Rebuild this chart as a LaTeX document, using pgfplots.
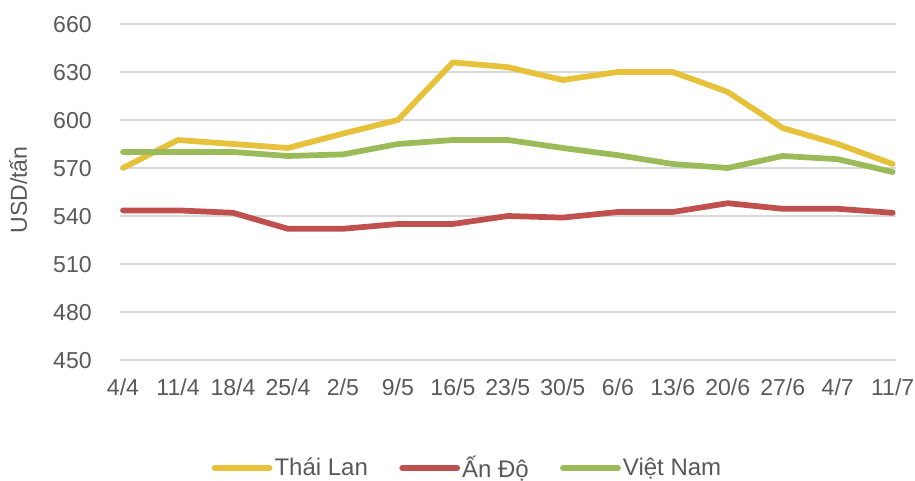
\documentclass[border=0pt]{standalone}
\usepackage{pgfplots}
\pgfplotsset{compat=1.18}
\usepackage{fontspec}
\setmainfont{Liberation Sans}
\definecolor{cY}{HTML}{E8C13B}
\definecolor{cR}{HTML}{C0504D}
\definecolor{cG}{HTML}{9BBB59}
\definecolor{labelgray}{HTML}{595959}
\definecolor{gridgray}{HTML}{D9D9D9}
\begin{document}
\fontsize{17.3}{20.8}\selectfont
\begin{tikzpicture}
\begin{axis}[
  scale only axis, width=582pt, height=252pt,
  xmin=-0.055, xmax=14.06, ymin=450, ymax=660,
  ytick={450,480,...,660},
  xtick={0,...,14},
  xticklabels={4/4,11/4,18/4,25/4,2/5,9/5,16/5,23/5,30/5,6/6,13/6,20/6,27/6,4/7,11/7},
  axis line style={draw=none},
  major tick length=0pt,
  ymajorgrids,
  grid style={gridgray, line width=1.1pt},
  /pgf/number format/assume math mode=true,
  ticklabel style={text=labelgray, font=\fontsize{17.3}{20.8}\selectfont},
  yticklabel style={anchor=base east, inner sep=0pt, xshift=-21pt, yshift=-6.2pt},
  xticklabel style={anchor=base, inner sep=0pt, yshift=-27pt},
  ylabel={USD/tấn},
  ylabel style={at={(axis description cs:-0.1314,0.506)}, anchor=center, text=labelgray, font=\fontsize{17.3}{20.8}\selectfont},
  legend columns=3,
  legend style={at={(axis description cs:0.4478,-0.322)}, anchor=center, draw=none, fill=none,
    text=labelgray, font=\fontsize{18}{21.6}\selectfont,
    nodes={inner xsep=1.5pt},
    /tikz/every odd column/.append style={column sep=0pt},
    /tikz/every even column/.append style={column sep=22pt}},
  legend image code/.code={\draw[#1, line width=4.6pt, line cap=round] (0pt,0pt) -- (41pt,0pt);},
]
\addplot[cY, line width=4.3pt, line cap=round, line join=round] coordinates {
(0,570) (1,587.5) (2,585) (3,582.5) (4,591.5) (5,600) (6,636) (7,633) (8,625) (9,630) (10,630) (11,617.5) (12,595) (13,585) (14,572.5)};
\addlegendentry{Thái Lan}
\addplot[cR, line width=4.3pt, line cap=round, line join=round] coordinates {
(0,543.5) (1,543.5) (2,542) (3,532) (4,532) (5,535) (6,535) (7,540) (8,539) (9,542.5) (10,542.5) (11,548) (12,544.5) (13,544.5) (14,542)};
\addlegendentry{Ấn Độ}
\addplot[cG, line width=4.3pt, line cap=round, line join=round] coordinates {
(0,580) (1,580) (2,580) (3,577.5) (4,578.5) (5,585) (6,587.5) (7,587.5) (8,582.5) (9,578) (10,572.5) (11,570) (12,577.5) (13,575.5) (14,567.5)};
\addlegendentry{Việt Nam}
\end{axis}
\pgfresetboundingbox
\path[use as bounding box] (-90pt,-90.75pt) rectangle (596.25pt,270pt);
\end{tikzpicture}
\end{document}
